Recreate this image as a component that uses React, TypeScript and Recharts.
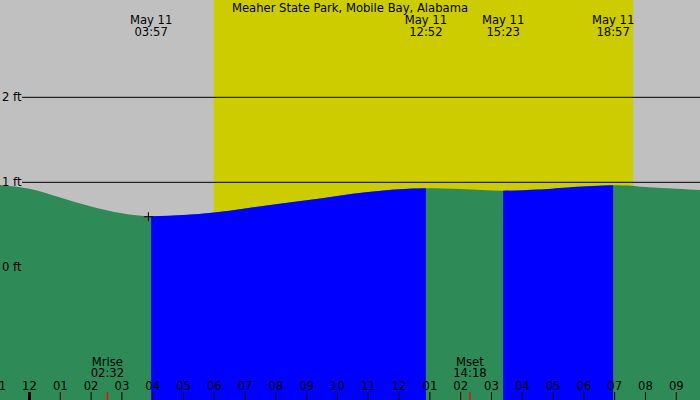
import {
  Area,
  ComposedChart,
  ReferenceArea,
  ReferenceDot,
  ReferenceLine,
  XAxis,
  YAxis,
} from "recharts";

const W = 700;
const H = 400;
const FONT = "DejaVu Sans";
const FS = 11.6;

const TITLE = "Meaher State Park, Mobile Bay, Alabama";
const DATE_LABEL = "May 11";

// hours since midnight May 11 (negative = evening of May 10)
const TIMES = [-0.96, 0, 1, 2, 3, 3.95, 5, 6, 7, 8, 9, 10, 11, 12, 12.87, 14, 15.38, 16.5, 17.5, 18.95, 20, 21, 21.77];
// tide height, ft
const HEIGHTS = [0.97, 0.925, 0.82, 0.715, 0.635, 0.6, 0.615, 0.645, 0.693, 0.743, 0.79, 0.84, 0.885, 0.918, 0.93, 0.92, 0.9, 0.915, 0.94, 0.965, 0.945, 0.925, 0.91];

// rising tide (blue) runs from each low to the next high
const FLOOD_START = [3.95, 15.38];
const FLOOD_END = [12.87, 18.95];

const EXTREME_TIMES = [3.95, 12.87, 15.38, 18.95];
const EXTREME_LABELS = ["03:57", "12:52", "15:23", "18:57"];

const SUNRISE = 5.98;
const SUNSET = 19.6;

const MOON_TIMES = [2.53, 14.3];
const MOON_NAMES = ["Mrise", "Mset"];
const MOON_LABELS = ["02:32", "14:18"];

const NOW_TIME = 3.86;
const NOW_HEIGHT = 0.595;

const HOUR_TICKS = [-1, 0, 1, 2, 3, 4, 5, 6, 7, 8, 9, 10, 11, 12, 13, 14, 15, 16, 17, 18, 19, 20, 21];
const LEVEL_LINES = [1, 2];
const LEVEL_LABELS = [0, 1, 2];

const X_DOMAIN = [-0.958, 21.77];
const Y_DOMAIN = [-1.561, 3.145];

const inFlood = (t: number) =>
  FLOOD_START.some((s, k) => t >= s - 1e-6 && t <= FLOOD_END[k] + 1e-6);

const rows = TIMES.map((t, i) => ({
  t,
  h: HEIGHTS[i],
  flood: inFlood(t) ? HEIGHTS[i] : null,
}));

function hourLabel(v: number): string {
  const h = ((v % 12) + 12) % 12 || 12;
  return String(h).padStart(2, "0");
}

function HourTick(props: any) {
  const { x, payload } = props;
  const v = payload.value as number;
  const m = MOON_TIMES.indexOf(v);
  if (m >= 0) {
    return (
      <g>
        <line x1={x} x2={x} y1={H - 8} y2={H} stroke="#ff0000" strokeWidth={1.3} />
        <text x={x} y={361.5} textAnchor="middle" dominantBaseline="central" fontSize={FS} fill="#000">
          {MOON_NAMES[m]}
        </text>
        <text x={x} y={373} textAnchor="middle" dominantBaseline="central" fontSize={FS} fill="#000">
          {MOON_LABELS[m]}
        </text>
      </g>
    );
  }
  return (
    <g>
      <line x1={x} x2={x} y1={H - 8} y2={H} stroke="#000" strokeWidth={v === 0 ? 3 : 1} />
      <text x={x} y={385.5} textAnchor="middle" dominantBaseline="central" fontSize={FS} fill="#000">
        {hourLabel(v)}
      </text>
    </g>
  );
}

// horizontal foot line, leaves room for its label on the left
function LevelLine(props: any) {
  const { x1, x2, y1 } = props;
  return <line x1={x1 + 22} x2={x2} y1={y1} y2={y1} stroke="#000" strokeWidth={1} />;
}

function NowMark(props: any) {
  const { cx, cy } = props;
  return (
    <g stroke="#000" strokeWidth={1}>
      <line x1={cx - 4.5} x2={cx + 4.5} y1={cy} y2={cy} />
      <line x1={cx} x2={cx} y1={cy - 4.5} y2={cy + 4.5} />
    </g>
  );
}

export default function App() {
  return (
    <div style={{ position: "absolute", left: 0, top: 0, width: W, height: H, fontFamily: FONT }}>
      <ComposedChart
        width={W}
        height={H}
        data={rows}
        margin={{ top: 0, right: 0, bottom: -1, left: 0 }}
        style={{ background: "#c0c0c0", fontFamily: FONT }}
      >
        <ReferenceArea x1={SUNRISE} x2={SUNSET} fill="#cccc00" fillOpacity={1} stroke="none" zIndex={-10} />
        <XAxis
          dataKey="t"
          type="number"
          domain={X_DOMAIN}
          allowDataOverflow
          ticks={[...HOUR_TICKS, ...MOON_TIMES]}
          interval={0}
          height={1}
          axisLine={false}
          tickLine={false}
          tick={(p: any) => <HourTick {...p} />}
        />
        <YAxis hide type="number" domain={Y_DOMAIN} allowDataOverflow />
        <Area
          type="natural"
          dataKey="h"
          stroke="none"
          fill="#2e8b57"
          fillOpacity={1}
          baseValue="dataMin"
          dot={false}
          activeDot={false}
          isAnimationActive={false}
        />
        <Area
          type="natural"
          dataKey="flood"
          stroke="none"
          fill="#0000ff"
          fillOpacity={1}
          baseValue="dataMin"
          connectNulls={false}
          dot={false}
          activeDot={false}
          isAnimationActive={false}
        />
        {LEVEL_LABELS.map((v) => (
          <ReferenceLine
            key={`lv${v}`}
            y={v}
            stroke="none"
            shape={LEVEL_LINES.includes(v) ? (p: any) => <LevelLine {...p} /> : () => <g />}
            label={{ value: `${v} ft`, position: "insideLeft", offset: 2, fill: "#000", fontSize: FS }}
          />
        ))}
        {EXTREME_TIMES.map((t, i) => (
          <ReferenceLine
            key={`ex${i}`}
            x={t}
            stroke="none"
            label={(p: any) => (
              <g>
                <text x={p.viewBox.x} y={20} textAnchor="middle" dominantBaseline="central" fontSize={FS} fill="#000">
                  {DATE_LABEL}
                </text>
                <text x={p.viewBox.x} y={31.5} textAnchor="middle" dominantBaseline="central" fontSize={FS} fill="#000">
                  {EXTREME_LABELS[i]}
                </text>
              </g>
            )}
          />
        ))}
        <ReferenceDot x={NOW_TIME} y={NOW_HEIGHT} r={4} shape={(p: any) => <NowMark {...p} />} />
      </ComposedChart>
      <div
        style={{
          position: "absolute",
          left: 0,
          top: 1,
          width: W,
          textAlign: "center",
          fontSize: FS,
          lineHeight: "14px",
          color: "#000",
          pointerEvents: "none",
        }}
      >
        {TITLE}
      </div>
    </div>
  );
}
